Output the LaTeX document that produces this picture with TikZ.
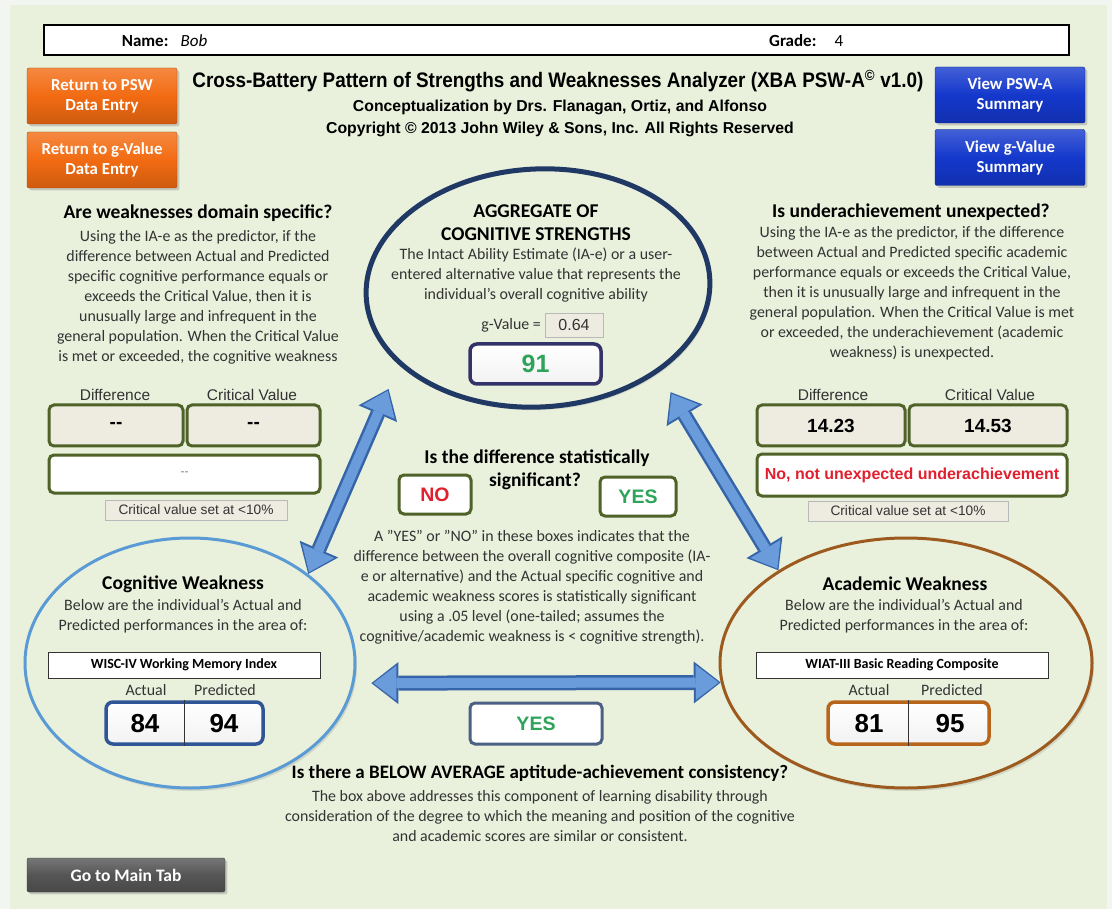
\documentclass[tikz,border=0pt]{standalone}
\usepackage{fontspec}
\setmainfont{Carlito}
\newfontfamily\arialfam{Liberation Sans}
\newfontfamily\titlefam[FakeStretch=0.9]{Liberation Sans}
\usetikzlibrary{arrows.meta,shapes.geometric,shadows}

\definecolor{bgouter}{HTML}{F2F5F0}
\definecolor{bgpage}{HTML}{E9F0DC}
\definecolor{bodytext}{HTML}{333333}
\definecolor{oliveline}{HTML}{4F6228}
\definecolor{cellfill}{HTML}{EEECE1}
\definecolor{navyline}{HTML}{1F3864}
\definecolor{cogblue}{HTML}{5B9BD5}
\definecolor{acadbrown}{HTML}{9C5A1E}
\definecolor{scorebrown}{HTML}{B8651C}
\definecolor{scoreblue}{HTML}{2F5597}
\definecolor{yesgreen}{HTML}{2EA35A}
\definecolor{nored}{HTML}{E0202F}
\definecolor{btnorange}{HTML}{F26B12}
\definecolor{btnblue}{HTML}{1438CC}
\definecolor{btngrey}{HTML}{555555}
\definecolor{arrowblue}{HTML}{6A9BDA}
\definecolor{arrowedge}{HTML}{3565A8}

\tikzset{
  body/.style={font=\fontsize{15.9}{20}\selectfont, text=bodytext, align=center, inner sep=0pt},
  head/.style={font=\bfseries\fontsize{19.5}{22}\selectfont, inner sep=0pt},
  colname/.style={font=\arialfam\fontsize{15.5}{17}\selectfont, text=bodytext, inner sep=0pt},
  button/.style={draw=#1!70!black, rounded corners=2pt, top color=#1!80!white, bottom color=#1!85!black,
    middle color=#1, text=white, font=\bfseries\fontsize{16.8}{20}\selectfont, align=center,
    minimum width=150pt, minimum height=56pt, inner sep=0pt, drop shadow={opacity=.35}},
  namebar/.style={draw=black, line width=1.5pt, fill=white, minimum width=1025pt, minimum height=30pt},
  cell/.style={draw=oliveline, line width=3pt, rounded corners=5pt, fill=cellfill, inner sep=0pt,
    font=\arialfam\bfseries\fontsize{19}{21}\selectfont},
  resultcell/.style={cell, fill=white, font=\arialfam\bfseries\fontsize{16}{18}\selectfont},
  critnote/.style={draw=gray!55, fill=cellfill, minimum width=#1, minimum height=20pt, inner sep=0pt,
    font=\arialfam\fontsize{13.7}{15}\selectfont, text=bodytext},
  answer/.style={draw=#1, line width=3pt, rounded corners=5pt, fill=white, inner sep=0pt,
    font=\arialfam\bfseries\fontsize{19.5}{22}\selectfont},
  scorebox/.style={draw=#1, line width=3.5pt, rounded corners=7pt, top color=white, bottom color=gray!10,
    minimum height=42pt, inner sep=0pt},
  testname/.style={draw=black!80, fill=white, minimum height=26pt, inner sep=0pt,
    font=\bfseries\fontsize{14}{16}\selectfont},
  score/.style={font=\arialfam\bfseries\fontsize{26}{28}\selectfont, inner sep=0pt},
  oval/.style={ellipse, draw=#1, fill=bgpage, inner sep=0pt,
    drop shadow={opacity=.22, shadow xshift=2pt, shadow yshift=-3pt}},
  fatedge/.style={line width=15pt, draw=arrowedge,
    {Triangle[length=27pt,width=42pt,line width=0pt]}-{Triangle[length=27pt,width=42pt,line width=0pt]}},
  fatbody/.style={line width=10pt, draw=arrowblue,
    {Triangle[length=23pt,width=35pt,line width=0pt]}-{Triangle[length=23pt,width=35pt,line width=0pt]}},
}

\begin{document}
\begin{tikzpicture}[x=1pt,y=-1pt]
\useasboundingbox[fill=bgouter] (0,0) rectangle (1112,909);
\fill[bgpage] (10,5) rectangle (1107,909);

% header bar
\node[namebar] (bar) at (556.5,40) {};
\node[anchor=east, font=\bfseries\fontsize{17}{19}\selectfont] (namelbl) at (172,41) {Name:};
\node[anchor=west, font=\itshape\fontsize{17}{19}\selectfont] (name) at (177,41) {Bob};
\node[anchor=east, font=\bfseries\fontsize{17}{19}\selectfont] (gradelbl) at (820,41) {Grade:};
\node[anchor=west, font=\fontsize{17}{19}\selectfont] (grade) at (831,41) {4};

% buttons
\node[button=btnorange] (pswentry) at (102,96) {Return to PSW\\Data Entry};
\node[button=btnorange] (gentry) at (102,160) {Return to g-Value\\Data Entry};
\node[button=btnblue] (pswsum) at (1010,95) {View PSW-A\\Summary};
\node[button=btnblue] (gsum) at (1010,157.5) {View g-Value\\Summary};
\node[button=btngrey, minimum width=198pt, minimum height=34pt, font=\bfseries\fontsize{17.5}{20}\selectfont] (maintab) at (126,875) {Go to Main Tab};

% title
\node[font=\titlefam\bfseries\fontsize{21}{24}\selectfont] (title) at (558,81)
  {Cross-Battery Pattern of Strengths and Weaknesses Analyzer (XBA PSW-A\textsuperscript{©} v1.0)};
\node[font=\arialfam\bfseries\fontsize{15.8}{18}\selectfont] (authors) at (560,107)
  {Conceptualization by Drs. Flanagan, Ortiz, and Alfonso};
\node[font=\arialfam\bfseries\fontsize{15.8}{18}\selectfont] (copyright) at (560,129)
  {Copyright © 2013 John Wiley \& Sons, Inc. All Rights Reserved};

% the three ovals
\node[oval=navyline, line width=5pt, minimum width=344pt, minimum height=238pt, rotate=3] (agg) at (538,288) {};
\node[oval=cogblue, line width=3pt, minimum width=330pt, minimum height=250pt] (cogw) at (190,663) {};
\node[oval=acadbrown, line width=3pt, minimum width=372pt, minimum height=250pt] (acadw) at (906,663) {};

% aggregate of cognitive strengths
\node[head] (agghead) at (536,211) {AGGREGATE OF};
\node[head] (agghead2) at (536,234) {COGNITIVE STRENGTHS};
\node[body] (aggtext) at (536,275) {The Intact Ability Estimate  (IA-e) or a user-\\entered alternative value that represents the\\individual's overall cognitive ability};
\node[body, anchor=east] (glbl) at (541,325) {g-Value =};
\node[critnote=58pt, minimum height=24pt, font=\arialfam\fontsize{16}{18}\selectfont] (gval) at (574,325) {0.64};
\node[scorebox=black!65!blue!60!gray, fill=cellfill, minimum width=131pt, minimum height=40pt,
  font=\arialfam\bfseries\fontsize{25}{27}\selectfont, text=yesgreen] (ia) at (535.5,364) {91};

% left column
\node[head] (lhead) at (198,213) {Are weaknesses domain specific?};
\node[body] (ltext) at (198,297) {Using the IA-e as the predictor, if the\\difference between Actual and Predicted\\specific cognitive performance equals or\\exceeds the Critical Value, then it is\\unusually large and infrequent  in the\\general population. When the Critical Value\\is met or exceeded, the cognitive weakness};
\node[colname] (ldifflbl) at (115,395) {Difference};
\node[colname] (lcritlbl) at (252,395) {Critical Value};
\node[cell, minimum width=134pt, minimum height=41pt] (ldiff) at (116,425.5) {--};
\node[cell, minimum width=133pt, minimum height=41pt] (lcrit) at (253.5,425.5) {--};
\node[resultcell, minimum width=271pt, minimum height=38pt, font=\arialfam\fontsize{12}{14}\selectfont, text=gray] (lres) at (184.5,474) {--};
\node[critnote=182pt] (lnote) at (196,510) {Critical value set at <10\%};

% right column
\node[head] (rhead) at (911,212) {Is underachievement unexpected?};
\node[body] (rtext) at (912,293) {Using the IA-e as the predictor, if the difference\\between Actual and Predicted specific academic\\performance equals or exceeds the Critical Value,\\then it is unusually large and infrequent in the\\general population. When the Critical Value is met\\or exceeded, the underachievement (academic\\weakness) is unexpected.};
\node[colname] (rdifflbl) at (833,395) {Difference};
\node[colname] (rcritlbl) at (990,395) {Critical Value};
\node[cell, minimum width=148pt, minimum height=41pt] (rdiff) at (831,425.5) {14.23};
\node[cell, minimum width=158pt, minimum height=41pt] (rcrit) at (988,425.5) {14.53};
\node[resultcell, minimum width=310pt, minimum height=42pt, text=nored] (rres) at (912,475) {No, not unexpected underachievement};
\node[critnote=200pt] (rnote) at (908,511) {Critical value set at <10\%};

% significance
\node[head] (sighead) at (537,458) {Is the difference statistically};
\node[head] (sighead2) at (535,481) {significant?};
\node[answer=oliveline, minimum width=72pt, minimum height=39pt, text=nored] (no) at (435,494.5) {NO};
\node[answer=oliveline, minimum width=76pt, minimum height=39pt, text=yesgreen] (yes) at (638,496.5) {YES};
\node[body] (sigtext) at (532,587.5) {A "YES"  or "NO" in these boxes indicates that the\\difference between the overall cognitive composite (IA-\\e or alternative) and the Actual specific cognitive and\\academic weakness scores is statistically  significant\\using a .05 level (one-tailed; assumes  the\\cognitive/academic weakness is < cognitive  strength).};

% cognitive weakness
\node[head] (coghead) at (183,584) {Cognitive Weakness};
\node[body] (cogtext) at (183,616.5) {Below are the individual's Actual and\\Predicted performances in the area of:};
\node[testname, minimum width=272pt] (cogtest) at (184,665) {WISC-IV Working Memory Index};
\node[body] (cogact) at (146,690) {Actual};
\node[body] (cogpred) at (225,690) {Predicted};
\node[scorebox=scoreblue, minimum width=157pt] (cogscore) at (184.5,723) {};
\draw[black!80] (cogscore.north) -- (cogscore.south);
\node[score] (cogactv) at (145,724) {84};
\node[score] (cogpredv) at (224,724) {94};

% academic weakness
\node[head] (acadhead) at (905,584) {Academic Weakness};
\node[body] (acadtext) at (904,616.5) {Below are the individual's Actual and\\Predicted performances in the area of:};
\node[testname, minimum width=292pt] (acadtest) at (902,665) {WIAT-III Basic Reading Composite};
\node[body] (acadact) at (869,690) {Actual};
\node[body] (acadpred) at (952,690) {Predicted};
\node[scorebox=scorebrown, minimum width=161pt] (acadscore) at (908.5,723) {};
\draw[black!80] (acadscore.north) -- (acadscore.south);
\node[score] (acadactv) at (869,724) {81};
\node[score] (acadpredv) at (950,724) {95};

% fat double arrows between the ovals
\draw[fatedge, shorten <=26pt] (agg.206.6) -- (cogw.37);
\draw[fatbody, shorten <=28pt, shorten >=2pt] (agg.206.6) -- (cogw.37);
\draw[fatedge, shorten <=23pt] (agg.322.5) -- (acadw.144);
\draw[fatbody, shorten <=25pt, shorten >=2pt] (agg.322.5) -- (acadw.144);
\draw[fatedge, shorten <=17pt] (cogw.-7) -- (acadw.186);
\draw[fatbody, shorten <=19pt, shorten >=2pt] (cogw.-7) -- (acadw.186);

% consistency
\node[answer=navyline!80, minimum width=132pt, minimum height=41pt, text=yesgreen] (consist) at (536,723.5) {YES};
\node[head, font=\bfseries\fontsize{19}{22}\selectfont] (conhead) at (540,773) {Is there a BELOW AVERAGE aptitude-achievement consistency?};
\node[body] (context) at (540,816) {The box above addresses this component of learning disability  through\\consideration of the degree to which the meaning and position of the cognitive\\and academic scores are similar or consistent.};
\end{tikzpicture}
\end{document}
